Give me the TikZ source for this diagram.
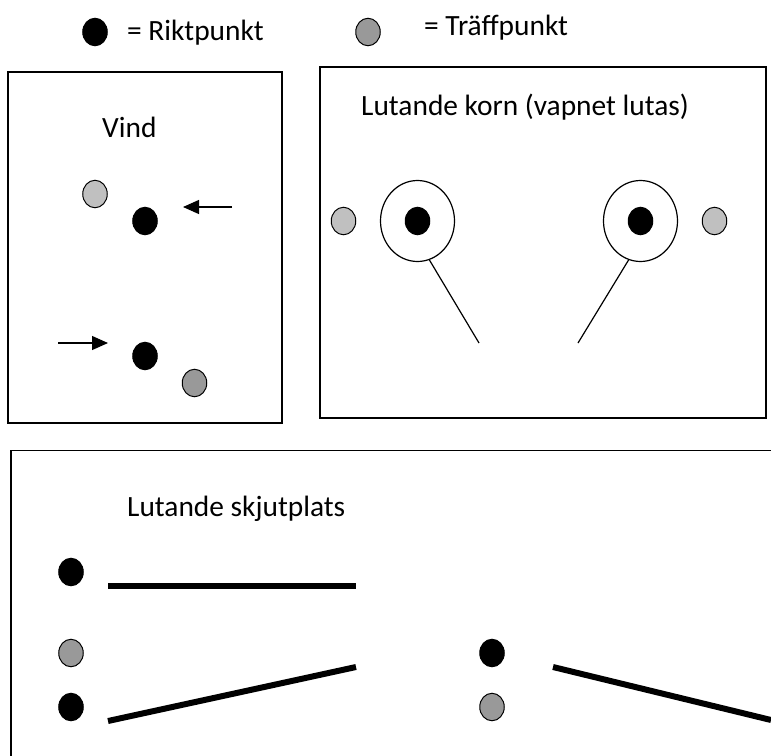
\documentclass[tikz,border=0pt]{standalone}
\usepackage{fontspec}
\setmainfont{Carlito}
\usetikzlibrary{shapes.geometric,arrows.meta}
\definecolor{lgray}{HTML}{C0C0C0}
\definecolor{dgray}{HTML}{999999}
\begin{document}
\begin{tikzpicture}[x=1pt,y=-1pt,
  dot/.style={ellipse,draw=black,line width=1pt,minimum width=24.5pt,minimum height=27.5pt,inner sep=0pt},
  aim/.style={dot,fill=black},
  hitl/.style={dot,fill=lgray},
  hitd/.style={dot,fill=dgray},
  frame/.style={draw=black,line width=1.7pt},
  lbl/.style={anchor=base west,inner sep=0pt,font=\fontsize{29.4}{34}\selectfont},
  windarrow/.style={line width=1.2pt,-{Triangle[length=16pt,width=14pt]}},
  ring/.style={ellipse,draw=black,line width=1.2pt,minimum width=74pt,minimum height=81pt,inner sep=0pt},
  stick/.style={line width=1.2pt},
  slope/.style={line width=6pt}]
\useasboundingbox (0,0) rectangle (771,755);
\clip (0,0) rectangle (771,755);
\fill[white] (0,0) rectangle (771,755);

% legend
\node[aim] (legA) at (95,32) {};
\node[lbl] (legAt) at (127,40) {= Riktpunkt};
\node[hitd] (legB) at (368,32) {};
\node[lbl] (legBt) at (424,35) {= Träffpunkt};

% wind box
\draw[frame] (8,72) rectangle (282,423);
\node[lbl] (vind) at (102,137) {Vind};
\node[hitl] (w1h) at (95,194) {};
\node[aim] (w1a) at (145,221) {};
\coordinate (w1s) at (232,207);
\coordinate (w1e) at (183,207);
\draw[windarrow] (w1s) -- (w1e);
\coordinate (w2s) at (58,343);
\coordinate (w2e) at (108,343);
\draw[windarrow] (w2s) -- (w2e);
\node[aim] (w2a) at (145,356) {};
\node[hitd] (w2h) at (194.5,383) {};

% korn box
\draw[frame] (320,67) rectangle (766,418);
\node[lbl] (korn) at (361,115) {Lutande korn (vapnet lutas)};
\node[hitl] (kLh) at (343.5,221) {};
\node[ring] (ringL) at (417.5,221) {};
\node[aim] (kLa) at (417.5,221) {};
\coordinate (endL) at (479,343);
\draw[stick] (ringL.-73) -- (endL);
\node[ring] (ringR) at (640.5,221) {};
\node[aim] (kRa) at (640.5,221) {};
\node[hitl] (kRh) at (714.5,221) {};
\coordinate (endR) at (578,343);
\draw[stick] (ringR.-107) -- (endR);

% bottom box
\draw[frame] (11,770) -- (11,450.5) -- (790,450.5);
\node[lbl] (skjut) at (127,516) {Lutande skjutplats};
\node[aim] (b1a) at (71,572) {};
\coordinate (s1a) at (108,586);
\coordinate (s1b) at (356,586);
\draw[slope] (s1a) -- (s1b);
\node[hitd] (b2h) at (71,653) {};
\node[aim] (b2a) at (71,707) {};
\coordinate (s2a) at (108,721);
\coordinate (s2b) at (356,667);
\draw[slope] (s2a) -- (s2b);
\node[aim] (b3a) at (492,653) {};
\node[hitd] (b3h) at (492,707) {};
\coordinate (s3a) at (553,667);
\coordinate (s3b) at (771,720);
\draw[slope] (s3a) -- (s3b);
\end{tikzpicture}
\end{document}
